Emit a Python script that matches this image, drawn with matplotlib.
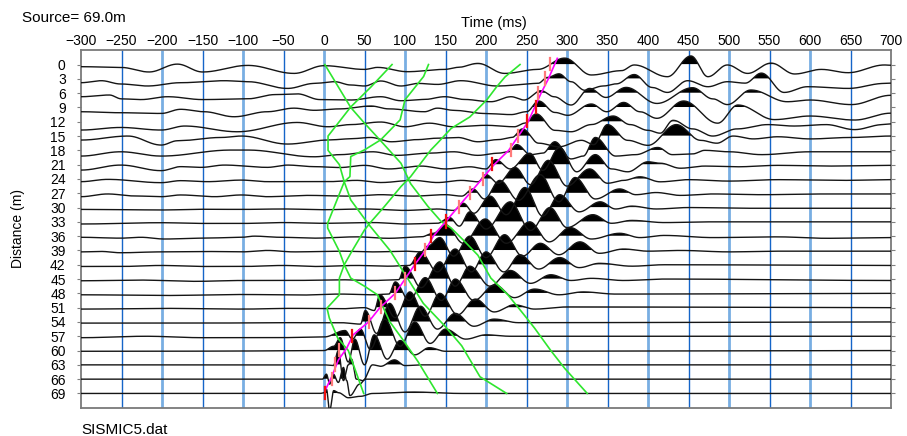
import numpy as np
import matplotlib
matplotlib.use("Agg")
import matplotlib.pyplot as plt

plt.rcParams['font.family'] = ['Liberation Sans', 'DejaVu Sans']

# ---- data ----------------------------------------------------------------
# each trace: (time ms, amplitude in trace spacings) at its turning points
DISTANCES = list(range(0, 70, 3))

TR_00 = [(-300, -0.15), (-251, -0.2), (-216, -0.52), (-181, 0.03), (-150, -0.52), (-94, -0.06), (-37, -0.62),
         (0, -0.08), (50, -0.34), (66, -0.2), (103, -0.5), (149, -0.34), (165, -0.2), (190, 0.08), (223, -0.62),
         (264, -0.34), (297, 0.45), (330, -0.73), (367, -0.43), (383, -0.03), (424, -0.85), (453, 0.6),
         (474, -0.85), (498, -0.03), (523, -0.62), (552, 0.1), (581, -0.66), (614, -0.34), (647, -0.57),
         (692, -0.03), (700, -0.05)]
TR_03 = [(-300, -0.27), (-275, -0.13), (-251, -0.36), (-218, -0.5), (-177, -0.27), (-123, -0.13), (-94, -0.2),
         (-45, -0.67), (-12, -0.32), (13, -0.2), (33, -0.43), (50, -0.5), (70, -0.15), (95, -0.5), (116, -0.32),
         (140, -0.39), (169, -0.13), (214, -0.5), (264, -0.32), (276, 0.1), (290, 0.35), (305, -0.2), (322, -0.8),
         (345, -0.5), (361, -0.35), (383, 0.3), (405, -0.6), (424, -0.95), (449, -0.13), (474, -0.55),
         (498, -0.2), (520, -0.3), (540, 0.4), (568, -0.95), (597, -0.55), (647, -0.67), (692, -0.32), (700, -0.3)]
TR_06 = [(-300, -0.25), (-265, -0.13), (-250, -0.4), (-226, -0.45), (-193, -0.25), (-150, -0.45), (-95, -0.4),
         (-60, -0.1), (-33, -0.05), (-5, -0.45), (33, -0.48), (70, -0.25), (95, -0.53), (124, -0.44), (149, -0.25),
         (173, -0.44), (206, -0.6), (231, -0.25), (247, -0.48), (268, 0.17), (284, -0.25), (305, -0.83),
         (328, 0.33), (348, -0.3), (373, 0.4), (411, -0.72), (455, 0.38), (480, -0.4), (498, -0.8), (527, 0.22),
         (572, -0.6), (600, -0.48), (651, -0.8), (700, -0.15)]
TR_09 = [(-300, -0.3), (-251, -0.37), (-201, -0.42), (-177, -0.13), (-148, -0.3), (-111, -0.65), (-70, -0.3),
         (-37, -0.05), (-12, -0.2), (20, -0.1), (58, 0.1), (80, -0.1), (124, -0.3), (140, -0.05), (160, -0.2),
         (198, -0.42), (231, -0.5), (250, -0.3), (265, 0.45), (285, -0.35), (301, -0.55), (330, 0.24),
         (349, -0.3), (370, 0.35), (390, -0.3), (411, -0.76), (444, 0.45), (486, -1.1), (511, 0.17),
         (556, -0.85), (600, -0.6), (655, -0.88), (700, -0.4)]
TR_12 = [(-300, -0.58), (-251, -0.4), (-201, -0.58), (-172, -0.3), (-107, -0.7), (-33, -0.05), (5, -0.35),
         (33, -0.2), (70, -0.02), (100, -0.35), (130, -0.1), (160, -0.35), (200, -0.25), (235, -0.35), (248, -0.1),
         (262, 0.55), (285, -0.6), (305, -0.7), (330, -0.2), (357, 0.4), (378, -0.2), (400, -0.6), (415, -0.8),
         (431, 0.1), (455, -0.5), (480, -1.0), (510, -0.5), (548, -0.2), (580, -0.3), (620, -0.2), (655, -0.55),
         (690, -0.2), (700, -0.15)]
TR_15 = [(-300, -0.28), (-242, 0.0), (-201, -0.63), (-181, -0.33), (-127, -0.1), (-102, 0.0), (-45, -0.56),
         (5, -0.28), (30, -0.2), (58, -0.1), (83, -0.4), (115, -0.25), (140, -0.15), (165, -0.1), (190, -0.4),
         (215, -0.25), (232, -0.1), (245, 0.5), (265, -0.5), (290, -0.75), (318, -0.3), (333, -0.6), (350, 0.8),
         (375, -0.3), (400, -0.65), (435, 0.8), (465, -0.3), (485, -0.5), (505, 0.0), (530, -0.2), (560, -0.05),
         (600, -0.2), (650, -0.1), (700, 0.0)]
TR_18 = [(-300, -0.4), (-251, -0.1), (-201, -0.4), (-115, 0.02), (-94, 0.02), (-12, -0.45), (20, -0.3),
         (60, -0.1), (90, -0.35), (130, -0.2), (160, -0.1), (190, -0.35), (215, -0.2), (228, -0.1), (238, 0.4),
         (255, -0.3), (270, -0.2), (285, 0.6), (305, -0.6), (320, -0.4), (335, 0.9), (360, -0.4), (385, -0.3),
         (412, 0.2), (430, -0.3), (455, -0.25), (470, 0.0), (500, -0.1), (540, -0.3), (600, -0.1), (700, -0.1)]
TR_21 = [(-300, -0.38), (-251, -0.03), (-201, -0.42), (-177, -0.14), (-152, -0.19), (-123, -0.03), (-70, -0.19),
         (-45, -0.03), (-12, -0.14), (20, -0.2), (50, -0.05), (80, -0.3), (120, -0.1), (150, -0.3), (180, -0.15),
         (200, -0.3), (212, 0.35), (230, -0.3), (254, 0.8), (270, -0.4), (291, 1.2), (312, -0.5), (335, 0.7),
         (355, -0.3), (375, -0.5), (400, 0.2), (415, 0.1), (440, -0.25), (470, -0.1), (510, -0.15), (560, -0.05),
         (620, -0.1), (700, -0.05)]
TR_24 = [(-300, -0.19), (-267, -0.03), (-201, -0.26), (-177, -0.12), (-144, -0.19), (-102, -0.08), (-70, -0.19),
         (5, -0.19), (40, -0.1), (70, -0.25), (110, -0.1), (140, -0.25), (170, -0.1), (190, -0.2), (200, 0.3),
         (215, -0.3), (236, 0.8), (255, -0.4), (277, 1.3), (300, -0.5), (328, 0.7), (350, -0.3), (370, -0.1),
         (390, 0.15), (415, -0.2), (450, -0.05), (500, -0.15), (560, -0.05), (640, -0.1), (700, -0.05)]
TR_27 = [(-300, -0.24), (-267, -0.05), (-234, -0.19), (-201, -0.24), (-177, -0.12), (-135, -0.24), (-102, -0.12),
         (-70, -0.24), (-20, -0.15), (30, -0.2), (70, -0.1), (110, -0.2), (150, -0.1), (170, -0.2), (184, 0.3),
         (198, -0.4), (217, 0.9), (240, -0.5), (267, 1.3), (290, -0.6), (310, 1.1), (335, -0.4), (365, 0.3),
         (385, -0.1), (410, 0.05), (440, -0.15), (480, -0.05), (540, -0.1), (620, -0.05), (700, -0.05)]
TR_30 = [(-300, -0.13), (-250, -0.15), (-201, -0.17), (-150, -0.12), (-102, -0.13), (-50, -0.1), (0, -0.15),
         (50, -0.1), (100, -0.2), (140, -0.1), (160, -0.2), (172, 0.3), (185, -0.4), (205, 0.8), (225, -0.5),
         (248, 1.4), (270, -0.6), (291, 0.9), (315, -0.3), (341, 0.4), (360, -0.1), (380, 0.1), (410, -0.1),
         (450, 0.0), (520, -0.05), (700, -0.05)]
TR_33 = [(-300, -0.15), (-201, -0.06), (-150, -0.11), (-100, -0.11), (-50, -0.05), (0, -0.1), (60, -0.05),
         (100, -0.15), (140, -0.1), (155, 0.3), (167, -0.3), (180, 0.7), (200, -0.5), (230, 1.4), (255, -0.6),
         (279, 1.0), (300, -0.4), (332, 0.5), (355, -0.1), (380, 0.1), (420, -0.05), (480, 0.0), (700, 0.0)]
TR_36 = [(-300, -0.08), (-251, -0.14), (-226, -0.08), (-197, -0.2), (-150, -0.14), (-102, -0.08), (-86, 0.0),
         (-53, -0.08), (-12, -0.14), (40, -0.05), (80, -0.15), (120, -0.05), (135, 0.2), (150, 0.8), (172, -0.5),
         (199, 1.2), (225, -0.5), (254, 1.0), (278, -0.4), (304, 0.6), (330, -0.2), (365, 0.2), (390, -0.1),
         (420, 0.05), (480, -0.1), (560, -0.05), (620, -0.15), (700, -0.1)]
TR_39 = [(-300, -0.1), (-275, -0.07), (-251, -0.16), (-201, -0.1), (-152, -0.07), (-102, -0.1), (-70, 0.0),
         (-37, -0.1), (20, -0.05), (60, -0.1), (100, -0.05), (120, -0.1), (128, 0.3), (143, 0.9), (160, -0.4),
         (180, 1.0), (200, -0.5), (223, 1.1), (245, -0.4), (267, 0.5), (290, -0.3), (316, 0.6), (340, -0.2),
         (370, 0.1), (400, -0.05), (440, 0.0), (500, -0.1), (560, -0.05), (700, -0.05)]
TR_42 = [(-300, -0.12), (-251, -0.12), (-201, -0.05), (-150, -0.12), (-100, -0.12), (-50, -0.05), (-10, -0.12),
         (40, -0.05), (80, -0.1), (105, -0.05), (119, 0.9), (140, -0.5), (162, 1.1), (182, -0.5), (200, 0.9),
         (222, -0.5), (242, 0.7), (265, -0.3), (291, 0.5), (315, -0.2), (340, 0.1), (380, -0.1), (420, 0.0),
         (700, -0.05)]
TR_45 = [(-300, -0.12), (-230, -0.07), (-160, -0.16), (-100, -0.1), (-40, -0.1), (20, -0.05), (60, -0.1),
         (92, -0.05), (100, 0.9), (120, -0.6), (143, 1.2), (162, -0.5), (180, 0.9), (205, -0.5), (230, 0.6),
         (255, -0.3), (280, 0.3), (305, -0.1), (330, 0.05), (370, -0.1), (420, 0.0), (700, -0.1)]
TR_48 = [(-300, -0.1), (-200, -0.15), (-100, -0.08), (-30, -0.12), (20, -0.05), (60, -0.1), (80, -0.05),
         (88, 0.8), (105, -0.5), (125, 1.1), (145, -0.5), (162, 1.0), (185, -0.5), (211, 0.6), (235, -0.3),
         (260, 0.3), (290, -0.1), (320, 0.1), (360, -0.05), (700, 0.0)]
TR_51 = [(-300, -0.1), (-200, -0.05), (-100, -0.1), (-40, -0.05), (20, -0.08), (50, 0.0), (62, -0.2), (69, 0.9),
         (88, -0.7), (106, 1.1), (125, -0.6), (143, 1.0), (165, -0.5), (187, 0.6), (210, -0.3), (235, 0.2),
         (260, -0.1), (300, 0.05), (700, 0.0)]
TR_54 = [(-300, -0.08), (-150, -0.08), (-50, -0.05), (20, -0.05), (45, -0.15), (51, 0.8), (65, -0.8), (81, 1.3),
         (100, -0.7), (119, 1.1), (140, -0.5), (162, 0.6), (185, -0.3), (210, 0.2), (240, -0.05), (700, 0.0)]
TR_57 = [(-300, -0.1), (-220, 0.0), (-150, -0.1), (-60, -0.1), (0, -0.05), (26, 0.4), (35, -0.2), (45, 0.5),
         (57, -0.9), (75, 1.2), (94, -0.7), (112, 1.0), (131, -0.5), (150, 0.5), (175, -0.2), (200, 0.1),
         (230, 0.0), (700, 0.0)]
TR_60 = [(-300, -0.05), (-200, -0.05), (-100, -0.03), (0, 0.0), (12, 0.3), (20, 0.9), (30, -0.8), (38, 0.8),
         (50, -1.0), (62, 1.1), (78, -0.6), (94, 0.7), (112, -0.3), (130, 0.2), (150, -0.05), (700, 0.0)]
TR_63 = [(-300, 0.0), (0, 0.0), (11.5, -0.05), (17.7, 1.0), (24, -1.1), (30, 0.0), (34, 0.4), (40, -1.0),
         (48, -1.1), (60, 0.0), (70, -0.1), (87, 0.35), (100, -0.05), (120, 0.0), (700, 0.0)]
TR_66 = [(-300, 0.0), (-2, 0.0), (3, 0.35), (7, -0.35), (11.5, 0.35), (17.7, -0.23), (24, 0.82), (28, -0.1),
         (32, -1.15), (44, -0.35), (51, 0.0), (700, 0.0)]
TR_69 = [(-300, 0.0), (-5, 0.0), (0, 0.05), (3, 0.3), (7, -1.2), (12, 0.2), (18, 0.05), (30, -0.3), (45, -0.2),
         (60, 0.0), (110, 0.1), (170, 0.0), (700, 0.0)]

TRACES = [TR_00, TR_03, TR_06, TR_09, TR_12, TR_15, TR_18, TR_21, TR_24, TR_27, TR_30, TR_33,
          TR_36, TR_39, TR_42, TR_45, TR_48, TR_51, TR_54, TR_57, TR_60, TR_63, TR_66, TR_69]

# first-break picks (red) and the fitted line through them (magenta)
PICK_TIME = [279, 273, 264, 262, 250, 239, 231, 207, 196, 180, 167, 150,
             132, 125, 112, 100, 88, 70, 56, 35, 18, 14, 9.5, 1]
PICK_PALE = [1, 1, 1, 0, 0, 1, 1, 0, 1, 1, 1, 0, 0, 1, 0, 1, 1, 1, 1, 0, 1, 1, 1, 0]
FIT_TIME = [1, 9.5, 17.7, 28, 36, 55, 69, 88, 100, 112, 125, 135, 150, 165, 180, 195, 210, 228, 240, 252,
            260, 268, 277, 288]
FIT_DIST = [68.5, 65.5, 62, 59.5, 56.7, 54, 51, 48, 45, 42, 39, 36, 33, 30, 27, 24, 21, 18, 15, 12, 9, 6, 3, -1.3]

# green travel-time curves
GA_T = [1, 33, 50, 70, 95, 107, 128, 145, 157, 173, 190, 206, 227, 247, 260, 280, 297, 325]
GA_D = [0, 9, 12.3, 16, 20.7, 25, 29.7, 33, 34.3, 37, 40, 44.8, 48.3, 52.5, 55.3, 60, 63.7, 69]
GB_T = [84, 58, 33, 5, 5, 19, 25, 4.5, 4.5, 19, 25, 33, 50, 66, 81, 99, 116, 140]
GB_D = [0, 4.7, 8.9, 15, 18, 21, 24.6, 33.3, 34.3, 39.2, 42, 44.8, 46.5, 48.3, 53.9, 58.1, 62.3, 69]
GC_T = [129, 123, 100, 94, 70, 50, 33, 32, 25, 33, 55, 81.5, 100, 122.6, 150, 170, 192.6, 225.5]
GC_D = [0, 2.5, 7.4, 11.6, 15.8, 17.9, 19.3, 23.5, 24.6, 28.4, 33.5, 39, 44, 50.1, 55, 59, 65.5, 69]
GD_T = [242, 223.5, 213, 201, 180, 157, 140, 132, 107, 95, 74.5, 58, 50, 33.3, 25, 19, 19, 3.7, 6.6, 17, 30, 49]
GD_D = [0, 2.6, 4.7, 7.4, 11, 13.4, 16.5, 17.9, 23.5, 25.6, 29.8, 33, 34.7, 39.5, 42, 44.8, 48.3, 51.1,
        53.2, 57.4, 60, 69]

SPACING = 3.0     # metres between traces
FILL_MIN = 0.03   # fill peaks above this


def wiggle(knots, t):
    kt = np.array([k[0] for k in knots], float)
    ka = np.array([k[1] for k in knots], float)
    i = np.clip(np.searchsorted(kt, t, side='right') - 1, 0, len(kt) - 2)
    s = np.clip((t - kt[i]) / (kt[i + 1] - kt[i]), 0, 1)
    w = (1 - np.cos(np.pi * s)) / 2
    return ka[i] + (ka[i + 1] - ka[i]) * w


fig = plt.figure(figsize=(9.07, 4.36), dpi=100)
ax = fig.add_axes([81 / 907, 28 / 436, 810 / 907, 358 / 436])

for x in range(-250, 700, 50):
    if x % 100 == 0:
        ax.axvline(x, color='#78aee2', lw=2.0, zorder=1)
    else:
        ax.axvline(x, color='#1565c8', lw=1.0, zorder=1)

t = np.linspace(-300, 700, 4001)
for d, knots in zip(DISTANCES, TRACES):
    a = wiggle(knots, t)
    y = d - SPACING * a
    ax.fill_between(t, d - SPACING * FILL_MIN, y, where=a > FILL_MIN, color='black', lw=0,
                    interpolate=True, zorder=2)
    ax.plot(t, y, color='#151515', lw=1.0, zorder=3)

for gt, gd in [(GA_T, GA_D), (GB_T, GB_D), (GC_T, GC_D), (GD_T, GD_D)]:
    ax.plot(gt, gd, color='#2ee62e', lw=1.2, zorder=4)

ax.plot(FIT_TIME, FIT_DIST, color='#ff00ff', lw=1.2, zorder=5)
for d, pt, pale in zip(DISTANCES, PICK_TIME, PICK_PALE):
    ax.plot([pt, pt], [d - 1.35, d + 1.2], color='#ff7a7a' if pale else '#ee1111', lw=1.6, zorder=6)

ax.set_xlim(-300, 700)
ax.set_ylim(72.05, -3.05)
ax.xaxis.tick_top()
ax.set_xticks(range(-300, 701, 50))
ax.tick_params(axis='x', length=0, pad=1.5, labelsize=10)
ax.set_yticks(DISTANCES)
ax.tick_params(axis='y', left=True, right=True, direction='out', length=3, color='#808080',
               labelsize=10, pad=8)
for s in ax.spines.values():
    s.set_color('#7a7a7a')
    s.set_linewidth(1.3)

ax.set_xlabel('Time (ms)', fontsize=10.5)
ax.xaxis.set_label_position('top')
ax.xaxis.set_label_coords((494 - 81) / 810, (408 - 27) / 358)
fig.text(18 / 907, 1 - 228 / 436, 'Distance (m)', rotation=90, ha='center', va='center', fontsize=10)
fig.text(22 / 907, 1 - 18 / 436, 'Source= 69.0m', ha='left', va='center', fontsize=11)
fig.text(81 / 907, 1 - 430 / 436, 'SISMIC5.dat', ha='left', va='center', fontsize=11)

fig.savefig('out.png', dpi=100)
